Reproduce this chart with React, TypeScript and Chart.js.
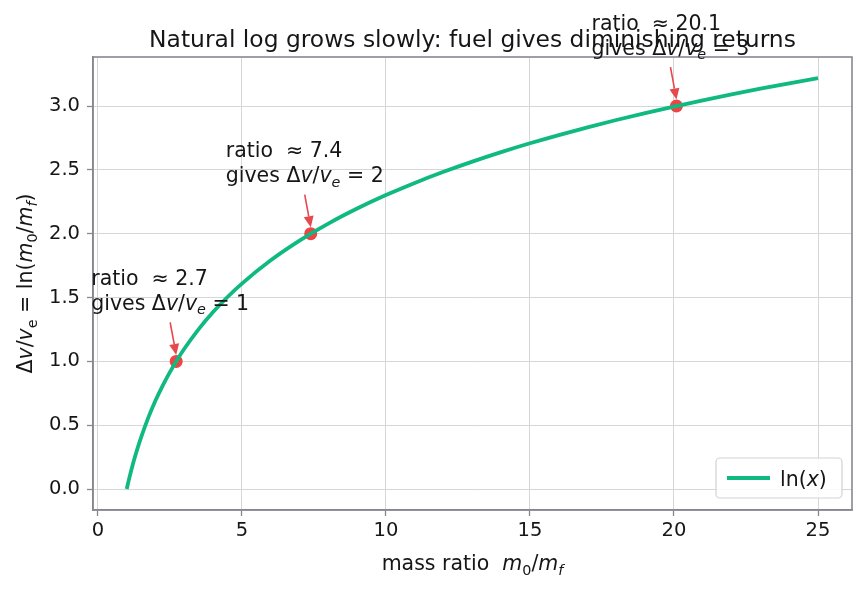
import React, { useEffect, useRef } from "react";
import { Chart, registerables } from "chart.js";

Chart.register(...registerables);

// ln(x) sampled along the mass-ratio axis
const massRatio = [1, 1.1, 1.2, 1.3, 1.4, 1.5, 1.75, 2, 2.25, 2.5, 2.75, 3, 3.5, 4, 4.5, 5, 6, 7, 8, 9, 10, 11, 12, 13, 14, 15, 16, 17, 18, 19, 20, 21, 22, 23, 24, 25];
const deltaV = [0, 0.0953, 0.1823, 0.2624, 0.3365, 0.4055, 0.5596, 0.6931, 0.8109, 0.9163, 1.0116, 1.0986, 1.2528, 1.3863, 1.5041, 1.6094, 1.7918, 1.9459, 2.0794, 2.1972, 2.3026, 2.3979, 2.4849, 2.5649, 2.6391, 2.7081, 2.7726, 2.8332, 2.8904, 2.9444, 2.9957, 3.0445, 3.091, 3.1355, 3.1781, 3.2189];

// Highlighted ratios where Δv/ve reaches whole numbers
const markRatio = [2.718, 7.389, 20.086];
const markDeltaV = [1, 2, 3];
const markRatioText = ["2.7", "7.4", "20.1"];

const xTicks = [0, 5, 10, 15, 20, 25];
const yTicks = [0, 0.5, 1, 1.5, 2, 2.5, 3];

const titleText = "Natural log grows slowly: fuel gives diminishing returns";
const legendText = "ln";

const FONT = '"DejaVu Sans", "Liberation Sans", sans-serif';
const TEXT_COLOR = "#161616";
const LINE_COLOR = "#10b981";
const MARK_COLOR = "#ef4444";
const ARROW_COLOR = "#e5484d";
const SPINE_COLOR = "#878792";
const GRID_COLOR = "#d6d6d9";
const TICK_FS = 19.5;
const FS = 20.5;
const TITLE_FS = 23.4;

type Run = { t: string; it?: boolean; sub?: boolean };

function runFont(r: Run, size: number) {
  const s = r.sub ? size * 0.7 : size;
  return `${r.it ? "italic " : ""}${s}px ${FONT}`;
}

function runsWidth(ctx: CanvasRenderingContext2D, runs: Run[], size: number) {
  let w = 0;
  for (const r of runs) {
    ctx.font = runFont(r, size);
    w += ctx.measureText(r.t).width;
  }
  return w;
}

function drawRuns(ctx: CanvasRenderingContext2D, runs: Run[], x: number, y: number, size: number) {
  let cx = x;
  ctx.textBaseline = "alphabetic";
  ctx.textAlign = "left";
  for (const r of runs) {
    ctx.font = runFont(r, size);
    ctx.fillText(r.t, cx, r.sub ? y + size * 0.22 : y);
    cx += ctx.measureText(r.t).width;
  }
  return cx;
}

const annotationPlugin = {
  id: "rocketAnnotations",
  beforeDatasetsDraw(chart: any) {
    // full box of spines
    const ctx: CanvasRenderingContext2D = chart.ctx;
    const a = chart.chartArea;
    ctx.save();
    ctx.strokeStyle = SPINE_COLOR;
    ctx.lineWidth = 1.6;
    ctx.strokeRect(a.left, a.top, a.right - a.left, a.bottom - a.top);
    ctx.restore();
  },
  afterDatasetsDraw(chart: any) {
    const ctx: CanvasRenderingContext2D = chart.ctx;
    const xs = chart.scales.x;
    const ys = chart.scales.y;
    const area = chart.chartArea;
    ctx.save();
    ctx.fillStyle = TEXT_COLOR;

    // title
    ctx.font = `${TITLE_FS}px ${FONT}`;
    ctx.textAlign = "center";
    ctx.textBaseline = "alphabetic";
    ctx.fillText(titleText, (area.left + area.right) / 2, area.top - 10);

    // x axis label
    const xl: Run[] = [
      { t: "mass ratio  " },
      { t: "m", it: true },
      { t: "0", sub: true },
      { t: "/" },
      { t: "m", it: true },
      { t: "f", it: true, sub: true },
    ];
    const xlw = runsWidth(ctx, xl, FS);
    ctx.fillStyle = TEXT_COLOR;
    drawRuns(ctx, xl, (area.left + area.right) / 2 - xlw / 2, 570, FS);

    // y axis label
    const yl: Run[] = [
      { t: "Δ" },
      { t: "v", it: true },
      { t: "/" },
      { t: "v", it: true },
      { t: "e", sub: true },
      { t: " = ln(" },
      { t: "m", it: true },
      { t: "0", sub: true },
      { t: "/" },
      { t: "m", it: true },
      { t: "f", it: true, sub: true },
      { t: ")" },
    ];
    const ylw = runsWidth(ctx, yl, FS);
    ctx.save();
    ctx.translate(32, (area.top + area.bottom) / 2);
    ctx.rotate(-Math.PI / 2);
    drawRuns(ctx, yl, -ylw / 2, 0, FS);
    ctx.restore();

    // annotations with arrows
    for (let i = 0; i < markRatio.length; i++) {
      const px = xs.getPixelForValue(markRatio[i]);
      const py = ys.getPixelForValue(markDeltaV[i]);
      const left = xs.getPixelForValue(markRatio[i] - 2.95);
      const line1: Run[] = [{ t: "ratio  ≈ " }, { t: markRatioText[i] }];
      const line2: Run[] = [
        { t: "gives Δ" },
        { t: "v", it: true },
        { t: "/" },
        { t: "v", it: true },
        { t: "e", it: true, sub: true },
        { t: " = " + markDeltaV[i] },
      ];
      const w = Math.max(runsWidth(ctx, line1, FS), runsWidth(ctx, line2, FS));
      ctx.fillStyle = TEXT_COLOR;
      drawRuns(ctx, line1, left, py - 76.5, FS);
      drawRuns(ctx, line2, left, py - 51.5, FS);

      const tx = left + w / 2;
      const ty = py - 39;
      const hx = px;
      const hy = py - 6.5;
      const ang = Math.atan2(hy - ty, hx - tx);
      const hl = 11;
      const hw = 5;
      ctx.strokeStyle = ARROW_COLOR;
      ctx.fillStyle = ARROW_COLOR;
      ctx.lineWidth = 1.6;
      ctx.beginPath();
      ctx.moveTo(tx, ty);
      ctx.lineTo(hx - Math.cos(ang) * hl, hy - Math.sin(ang) * hl);
      ctx.stroke();
      ctx.beginPath();
      ctx.moveTo(hx, hy);
      ctx.lineTo(hx - Math.cos(ang) * hl - Math.sin(ang) * hw, hy - Math.sin(ang) * hl + Math.cos(ang) * hw);
      ctx.lineTo(hx - Math.cos(ang) * hl + Math.sin(ang) * hw, hy - Math.sin(ang) * hl - Math.cos(ang) * hw);
      ctx.closePath();
      ctx.fill();
    }

    // legend (lower right)
    const lw = 126;
    const lh = 40;
    const lx = area.right - 10 - lw;
    const ly = area.bottom - 12 - lh;
    ctx.fillStyle = "rgba(255,255,255,0.85)";
    ctx.strokeStyle = "#d3d3d6";
    ctx.lineWidth = 1.2;
    ctx.beginPath();
    (ctx as any).roundRect(lx, ly, lw, lh, 4);
    ctx.fill();
    ctx.stroke();
    ctx.strokeStyle = LINE_COLOR;
    ctx.lineWidth = 3.8;
    ctx.lineCap = "butt";
    ctx.beginPath();
    ctx.moveTo(lx + 11, ly + lh / 2);
    ctx.lineTo(lx + 54, ly + lh / 2);
    ctx.stroke();
    ctx.fillStyle = TEXT_COLOR;
    drawRuns(ctx, [{ t: legendText + "(" }, { t: "x", it: true }, { t: ")" }], lx + 64, ly + lh / 2 + 7.5, FS);

    ctx.restore();
  },
};

export default function App() {
  const ref = useRef<HTMLCanvasElement | null>(null);

  useEffect(() => {
    if (!ref.current) return;
    const chart = new Chart(ref.current, {
      type: "line",
      data: {
        datasets: [
          {
            label: "ln(x)",
            data: massRatio.map((x, i) => ({ x, y: deltaV[i] })),
            borderColor: LINE_COLOR,
            borderWidth: 3.8,
            borderCapStyle: "butt",
            pointRadius: 0,
            cubicInterpolationMode: "monotone",
            fill: false,
          },
          {
            label: "marks",
            data: markRatio.map((x, i) => ({ x, y: markDeltaV[i] })),
            showLine: false,
            pointRadius: 6.5,
            pointBackgroundColor: MARK_COLOR,
            pointBorderColor: MARK_COLOR,
            pointBorderWidth: 0,
          },
        ],
      },
      options: {
        animation: false,
        responsive: false,
        events: [],
        layout: { padding: { top: 57, right: 14, left: 0, bottom: 0 } },
        plugins: {
          legend: { display: false },
          title: { display: false },
          tooltip: { enabled: false },
        },
        scales: {
          x: {
            type: "linear",
            min: -0.17,
            max: 26.18,
            afterFit: (s: any) => {
              s.height = 79;
            },
            afterBuildTicks: (s: any) => {
              s.ticks = xTicks.map((v) => ({ value: v }));
            },
            ticks: {
              font: { family: FONT, size: TICK_FS },
              color: TEXT_COLOR,
              padding: 3,
              maxRotation: 0,
              callback: (v: any) => String(v),
            },
            grid: { color: GRID_COLOR, lineWidth: 1, tickColor: SPINE_COLOR, tickLength: 6, tickWidth: 1.3 },
            border: { color: SPINE_COLOR, width: 1.6 },
          },
          y: {
            type: "linear",
            min: -0.164,
            max: 3.384,
            afterFit: (s: any) => {
              s.width = 93;
            },
            afterBuildTicks: (s: any) => {
              s.ticks = yTicks.map((v) => ({ value: v }));
            },
            ticks: {
              font: { family: FONT, size: TICK_FS },
              color: TEXT_COLOR,
              padding: 7,
              callback: (v: any) => Number(v).toFixed(1),
            },
            grid: { color: GRID_COLOR, lineWidth: 1, tickColor: SPINE_COLOR, tickLength: 6, tickWidth: 1.3 },
            border: { color: SPINE_COLOR, width: 1.6 },
          },
        },
      },
      plugins: [annotationPlugin],
    } as any);
    return () => chart.destroy();
  }, []);

  return (
    <div style={{ position: "fixed", left: 0, top: 0, width: 866, height: 589, background: "#fff" }}>
      <canvas ref={ref} width={866} height={589} style={{ display: "block" }} />
    </div>
  );
}
